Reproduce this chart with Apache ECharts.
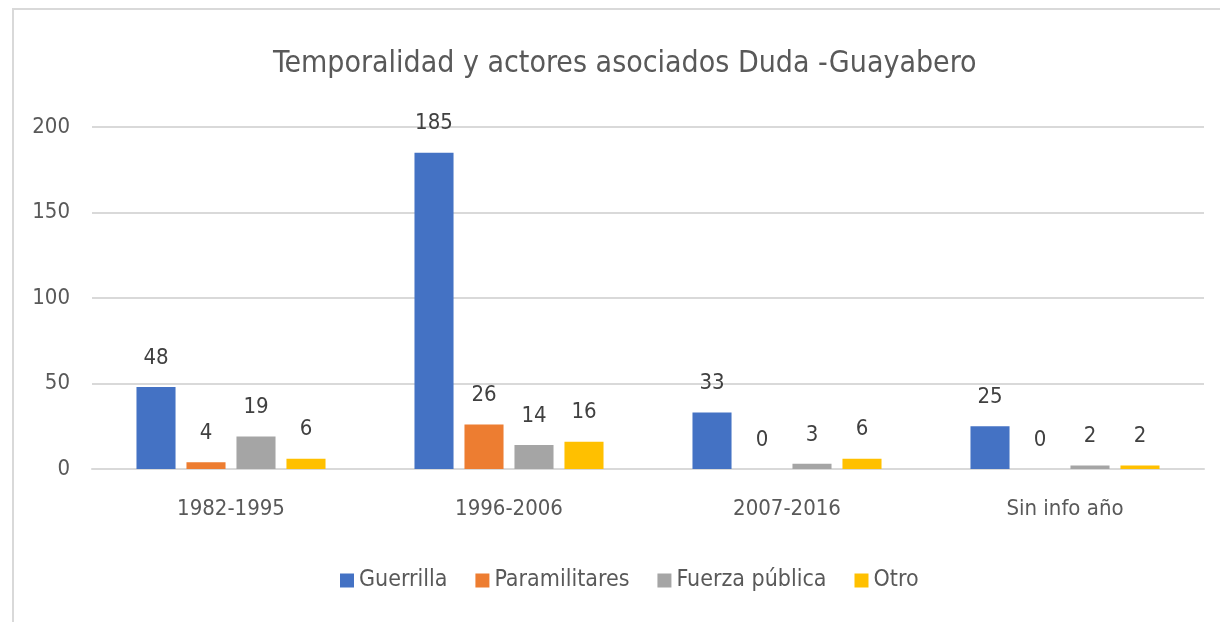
<!DOCTYPE html>
<html>
<head>
<meta charset="utf-8">
<script src="https://cdn.jsdelivr.net/npm/echarts@6/dist/echarts.min.js"></script>
<style>
  html, body { margin: 0; padding: 0; background: #fff; overflow: hidden; }
  #frame { position: absolute; left: 12px; top: 8px; width: 1220px; height: 640px;
           border-left: 2px solid #d9d9d9; border-top: 2px solid #d9d9d9; }
  #chart { position: absolute; left: 0; top: 0; width: 1220px; height: 622px; }
</style>
</head>
<body>
<div id="frame"></div>
<div id="chart"></div>
<script>
  const categories = ['1982-1995', '1996-2006', '2007-2016', 'Sin info año']
  const guerrilla = [48, 185, 33, 25]
  const paramilitares = [4, 26, 0, 0]
  const fuerzaPublica = [19, 14, 3, 2]
  const otro = [6, 16, 6, 2]

  const font = '"DejaVu Sans Condensed", "Open Sans", sans-serif'
  const chart = echarts.init(document.getElementById('chart'))

  const label = {
    show: true,
    position: 'top',
    distance: 18,
    color: '#404040',
    fontSize: 22,
    fontFamily: font
  }

  function bar(name, data, color) {
    return {
      name: name,
      type: 'bar',
      data: data,
      barGap: '28%',
      barCategoryGap: '32%',
      itemStyle: { color: color },
      label: label
    }
  }

  chart.setOption({
    animation: false,
    textStyle: { fontFamily: font },
    title: {
      text: 'Temporalidad y actores asociados Duda -Guayabero',
      left: 268,
      top: 44,
      textStyle: { color: '#595959', fontSize: 30, fontWeight: 'normal', fontFamily: font }
    },
    legend: {
      left: 335,
      top: 564,
      itemWidth: 14,
      itemHeight: 14,
      itemGap: 28,
      icon: 'rect',
      textStyle: { color: '#595959', fontSize: 23, fontFamily: font }
    },
    grid: {
      top: 127,
      left: 92,
      right: 16,
      bottom: 153
    },
    xAxis: {
      type: 'category',
      data: categories,
      axisLine: { lineStyle: { color: '#d9d9d9', width: 2 } },
      axisTick: { show: false },
      axisLabel: { color: '#595959', fontSize: 22, fontFamily: font, margin: 29 }
    },
    yAxis: {
      type: 'value',
      min: 0,
      max: 200,
      interval: 50,
      axisLine: { show: false },
      axisTick: { show: false },
      splitLine: { lineStyle: { color: '#d9d9d9', width: 2 } },
      axisLabel: { color: '#595959', fontSize: 22, fontFamily: font, margin: 22 }
    },
    series: [
      bar('Guerrilla', guerrilla, '#4472c4'),
      bar('Paramilitares', paramilitares, '#ed7d31'),
      bar('Fuerza pública', fuerzaPublica, '#a5a5a5'),
      bar('Otro', otro, '#ffc000')
    ]
  })
</script>
</body>
</html>
